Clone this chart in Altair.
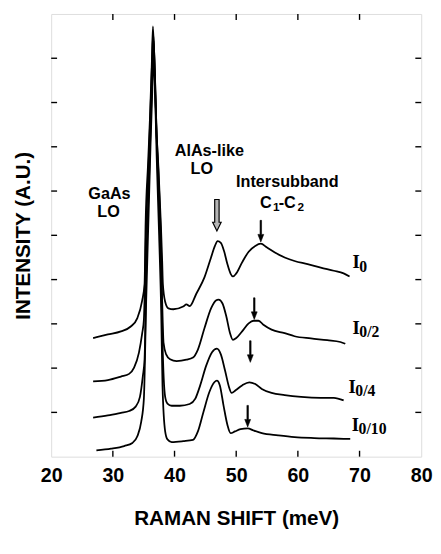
import altair as alt
import pandas as pd

# ---- spectra (Raman shift in meV, intensity in arbitrary tick units) ----
i0_x = [26.80, 29.19, 31.31, 32.90, 33.97, 34.76, 35.14, 35.30, 35.70, 36.00, 36.30, 36.50, 36.75, 37.00, 37.40, 37.80, 38.00,
        38.11, 38.48, 39.01, 39.81, 41.40, 41.93, 42.46, 43.53, 44.85, 45.92, 46.55, 46.98, 47.51, 48.04, 48.57, 49.10, 49.47,
        50.01, 50.96, 52.02, 53.09, 53.99, 54.94, 56.27, 57.86, 59.46, 61.58, 63.71, 65.83, 67.42, 68.38]
i0_y = [2.68, 2.76, 2.83, 2.94, 3.13, 3.53, 3.90, 5.20, 6.60, 7.60, 8.80, 9.72, 8.80, 7.60, 6.50, 5.20, 4.40,
        3.90, 3.50, 3.35, 3.33, 3.39, 3.44, 3.40, 3.68, 4.05, 4.50, 4.76, 4.87, 4.83, 4.64, 4.35, 4.13, 4.07,
        4.14, 4.39, 4.63, 4.76, 4.81, 4.73, 4.61, 4.50, 4.42, 4.35, 4.27, 4.20, 4.14, 4.07]

i0_2_x = [26.80, 29.19, 31.31, 32.64, 33.44, 34.23, 34.76, 35.03, 35.40, 35.80, 36.10, 36.35, 36.55, 36.80, 37.05, 37.45, 37.80, 38.00,
          38.22, 38.64, 39.28, 40.34, 41.93, 43.00, 43.79, 44.85, 45.92, 46.71, 47.14, 47.78, 48.41, 49.00, 49.47,
          50.01, 50.96, 52.02, 52.82, 53.62, 54.41, 55.74, 57.86, 59.46, 62.11, 64.77, 66.89, 67.69]
i0_2_y = [1.70, 1.73, 1.81, 1.87, 2.01, 2.35, 2.79, 3.09, 5.20, 6.60, 7.80, 8.90, 9.55, 8.70, 7.50, 6.20, 4.80, 3.50,
          2.57, 2.31, 2.20, 2.16, 2.19, 2.24, 2.42, 2.90, 3.35, 3.53, 3.55, 3.46, 3.16, 2.79, 2.64,
          2.68, 2.83, 3.01, 3.07, 3.07, 2.98, 2.87, 2.79, 2.72, 2.67, 2.63, 2.59, 2.55]

i0_4_x = [26.80, 29.19, 31.31, 32.64, 33.70, 34.39, 34.87, 35.14, 35.45, 35.85, 36.15, 36.40, 36.60, 36.85, 37.10, 37.50, 37.85, 38.05,
          38.48, 38.85, 39.54, 40.87, 42.46, 43.37, 44.16, 45.12, 46.08, 46.87, 47.51, 48.20, 48.84, 49.26,
          49.90, 50.96, 52.13, 53.09, 54.15, 55.74, 57.86, 60.52, 63.71, 65.83, 67.42]
i0_4_y = [0.88, 0.93, 0.99, 1.03, 1.13, 1.35, 1.83, 2.20, 4.50, 6.20, 7.60, 8.70, 9.40, 8.50, 7.20, 5.60, 4.00, 2.60,
          1.35, 1.20, 1.15, 1.15, 1.19, 1.31, 1.61, 2.05, 2.36, 2.44, 2.31, 1.94, 1.57, 1.44,
          1.50, 1.61, 1.68, 1.64, 1.53, 1.44, 1.39, 1.35, 1.33, 1.33, 1.27]

i0_10_x = [27.33, 29.72, 31.84, 33.17, 33.97, 34.60, 35.03, 35.40, 35.80, 36.10, 36.40, 36.60, 36.85, 37.10, 37.50, 37.85, 38.05,
           38.48, 38.85, 39.54, 41.40, 43.00, 43.79, 44.69, 45.65, 46.45, 46.87, 47.35, 47.94, 48.57, 49.10,
           49.79, 50.70, 51.86, 52.82, 54.15, 56.80, 59.46, 62.64, 65.83, 68.49]
i0_10_y = [0.14, 0.18, 0.24, 0.31, 0.46, 0.79, 1.31, 3.50, 5.50, 7.00, 8.30, 9.00, 8.20, 6.80, 5.00, 3.20, 1.60,
           0.57, 0.39, 0.33, 0.35, 0.38, 0.57, 1.01, 1.46, 1.68, 1.72, 1.61, 1.16, 0.72, 0.53,
           0.57, 0.62, 0.64, 0.59, 0.53, 0.48, 0.44, 0.42, 0.41, 0.40]

series_names = ["I0", "I0/2", "I0/4", "I0/10"]

# ---- annotations ----
anno_text = ["GaAs", "LO", "AlAs-like", "LO", "Intersubband"]
anno_x = [29.45, 29.30, 45.65, 44.43, 58.29]
anno_y = [5.93, 5.52, 6.90, 6.50, 6.20]

c_main_text = ["C", "-C"]
c_main_x = [53.86, 56.88]
c_main_y = [5.72, 5.72]
c_sub_text = ["1", "2"]
c_sub_x = [55.97, 59.95]
c_sub_y = [5.64, 5.64]

int_label_I_x = [68.86, 68.86, 68.22, 68.75]
int_label_I_y = [4.39, 2.90, 1.57, 0.72]
int_label_sub = ["0", "0/2", "0/4", "0/10"]
int_label_sub_x = [69.96, 69.96, 69.32, 69.85]
int_label_sub_y = [4.29, 2.81, 1.48, 0.63]

hollow_arrow_x = [46.87]
hollow_arrow_y = [5.10]
peak_arrow_x = [53.99, 52.93, 52.29, 51.86]
peak_arrow_y = [4.85, 3.10, 2.13, 0.67]

x_tick_values = [30, 40, 50, 60, 70]
y_tick_values = [1, 2, 3, 4, 5, 6, 7, 8, 9]
x_label_values = [20, 30, 40, 50, 60, 70, 80]

W, H = 377, 451
SANS = "Liberation Sans"
SERIF = "Liberation Serif"

rows = []
for name, xs_, ys_ in zip(series_names, [i0_x, i0_2_x, i0_4_x, i0_10_x], [i0_y, i0_2_y, i0_4_y, i0_10_y]):
    for xv, yv in zip(xs_, ys_):
        rows.append({"series": name, "shift": xv, "intensity": yv})
curves = pd.DataFrame(rows)

xscale = alt.Scale(domain=[20, 80], nice=False, zero=False)
yscale = alt.Scale(domain=[0, 10], nice=False, zero=False)

x_axis = alt.Axis(values=x_label_values, ticks=False, domain=False, grid=False, labelFont=SANS,
                  labelFontWeight="bold", labelFontSize=20, labelPadding=9, labelColor="black",
                  titleFont=SANS, titleFontWeight="bold", titleFontSize=21, titlePadding=23, titleColor="black",
                  labelFlush=False)
y_axis = alt.Axis(labels=False, ticks=False, domain=False, grid=False, titleFont=SANS,
                  titleFontWeight="bold", titleFontSize=21, titlePadding=18, titleColor="black")

X = alt.X("shift:Q", scale=xscale, axis=x_axis, title="RAMAN SHIFT (meV)")
Y = alt.Y("intensity:Q", scale=yscale, axis=y_axis, title="INTENSITY (A.U.)")

lines = alt.Chart(curves).mark_line(color="black", strokeWidth=1.8, interpolate="monotone",
                                    strokeJoin="round").encode(
    x=X, y=Y, detail="series:N", order="shift:Q")

anno_df = pd.DataFrame({"t": anno_text, "shift": anno_x, "intensity": anno_y})
anno = alt.Chart(anno_df).mark_text(font=SANS, fontWeight="bold", fontSize=16.5, color="black",
                                    align="center", baseline="middle").encode(x=X, y=Y, text="t:N")

cm_df = pd.DataFrame({"t": c_main_text, "shift": c_main_x, "intensity": c_main_y})
cmain = alt.Chart(cm_df).mark_text(font=SANS, fontWeight="bold", fontSize=16.5, color="black",
                                   align="left", baseline="middle").encode(x=X, y=Y, text="t:N")
cs_df = pd.DataFrame({"t": c_sub_text, "shift": c_sub_x, "intensity": c_sub_y})
csub = alt.Chart(cs_df).mark_text(font=SANS, fontWeight="bold", fontSize=12, color="black",
                                  align="left", baseline="middle").encode(x=X, y=Y, text="t:N")

li_df = pd.DataFrame({"t": ["I"] * 4, "shift": int_label_I_x, "intensity": int_label_I_y})
lab_I = alt.Chart(li_df).mark_text(font=SERIF, fontWeight="bold", fontSize=19, color="black",
                                   align="left", baseline="middle").encode(x=X, y=Y, text="t:N")
ls_df = pd.DataFrame({"t": int_label_sub, "shift": int_label_sub_x, "intensity": int_label_sub_y})
lab_sub = alt.Chart(ls_df).mark_text(font=SERIF, fontWeight="bold", fontSize=16, color="black",
                                     align="left", baseline="middle").encode(x=X, y=Y, text="t:N")

hollow_path = "M -0.14 -2 L 0.14 -2 L 0.14 -0.55 L 0.27 -0.55 L 0 0 L -0.27 -0.55 L -0.14 -0.55 Z"
small_path = "M -0.07 -2 L 0.07 -2 L 0.07 -0.7 L 0.27 -0.7 L 0 0 L -0.27 -0.7 L -0.07 -0.7 Z"

ha_df = pd.DataFrame({"shift": hollow_arrow_x, "intensity": hollow_arrow_y})
hollow = alt.Chart(ha_df).mark_point(shape=hollow_path, size=1024, filled=True, fill="#b5b5b5",
                                     stroke="black", strokeWidth=1.2, opacity=1).encode(x=X, y=Y)
pa_df = pd.DataFrame({"shift": peak_arrow_x, "intensity": peak_arrow_y})
arrows = alt.Chart(pa_df).mark_point(shape=small_path, size=484, filled=True, fill="black",
                                     stroke="black", strokeWidth=0.6, opacity=1).encode(x=X, y=Y)

yt_df = pd.DataFrame({"intensity": y_tick_values})
xt_df = pd.DataFrame({"shift": x_tick_values})
tk = dict(color="black", strokeWidth=1.4)
left_t = alt.Chart(yt_df).mark_rule(**tk).encode(y=Y, x=alt.value(0), x2=alt.value(6))
right_t = alt.Chart(yt_df).mark_rule(**tk).encode(y=Y, x=alt.value(W - 6), x2=alt.value(W))
bottom_t = alt.Chart(xt_df).mark_rule(**tk).encode(x=X, y=alt.value(H - 6), y2=alt.value(H))
top_t = alt.Chart(xt_df).mark_rule(**tk).encode(x=X, y=alt.value(0), y2=alt.value(6))

chart = alt.layer(lines, left_t, right_t, bottom_t, top_t, hollow, arrows, anno, cmain, csub, lab_I, lab_sub).properties(
    width=W, height=H,
    autosize=alt.AutoSizeParams(type="none"),
    padding={"left": 44, "top": 1, "right": 12, "bottom": 90},
).configure_view(stroke="black", strokeWidth=1.6).configure(background="white")

chart.save("out.html", embed_options={"renderer": "svg", "actions": False})
